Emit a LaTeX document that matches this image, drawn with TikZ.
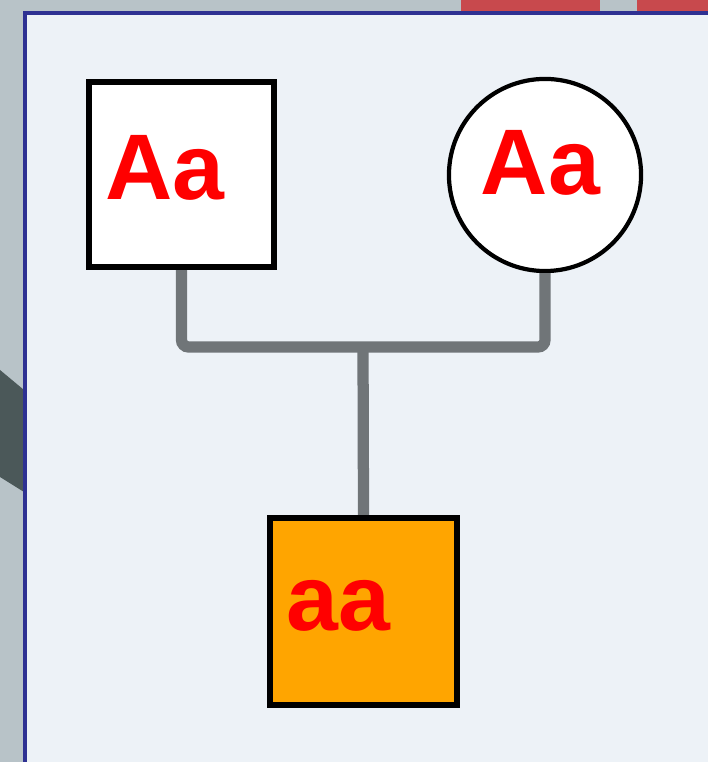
\documentclass[tikz,border=0pt]{standalone}
\usepackage{fontspec}
\setmainfont{Liberation Sans}
\definecolor{panelbg}{HTML}{EDF2F7}
\definecolor{panelrim}{HTML}{2E3192}
\definecolor{backgray}{HTML}{B8C3C8}
\definecolor{backdark}{HTML}{4B5859}
\definecolor{backred}{HTML}{C8494D}
\definecolor{linegray}{HTML}{707578}
\definecolor{affected}{HTML}{FFA500}

\begin{document}
\begin{tikzpicture}[x=0.01cm, y=-0.01cm,
  person/.style={draw=black, line width=1.7pt, fill=white, minimum size=1.85cm, inner sep=0pt},
  geno/.style={text=red, font=\fontsize{26.5}{26.5}\selectfont\bfseries, inner sep=0pt, anchor=base west},
  bar/.style={draw=linegray, line width=3.2pt, rounded corners=2pt}]
\useasboundingbox (0,0) rectangle (708,762);
% what shows round the panel
\fill[backgray] (0,0) rectangle (708,762);
\fill[backdark] (0,370) -- (24,390) -- (24,492) -- (0,477) -- cycle;
\fill[backred] (461,0) rectangle (600,14);
\fill[backred] (637,0) rectangle (708,14);
\fill[panelbg] (25,13) rectangle (708,762);
\draw[panelrim, line width=1pt] (25,762) -- (25,13) -- (708,13);
% parents and child
\node[person, rectangle] (father) at (181.5,174.5) {};
\node[person, circle, minimum size=1.92cm, line width=1.2pt] (mother) at (545,175) {};
\node[person, rectangle, fill=affected, minimum size=1.87cm] (child) at (363.5,611.5) {};
\node[geno] (fatherG) at (105,200) {Aa};
\node[geno] (motherG) at (480,195) {Aa};
\node[geno] (childG) at (286,630) {aa};
% mating line and descent
\coordinate (mate) at (363,347);
\draw[bar] (father.south) |- (mate) -| (mother.south);
\draw[bar] (mate) -- (child.north);
\end{tikzpicture}
\end{document}
